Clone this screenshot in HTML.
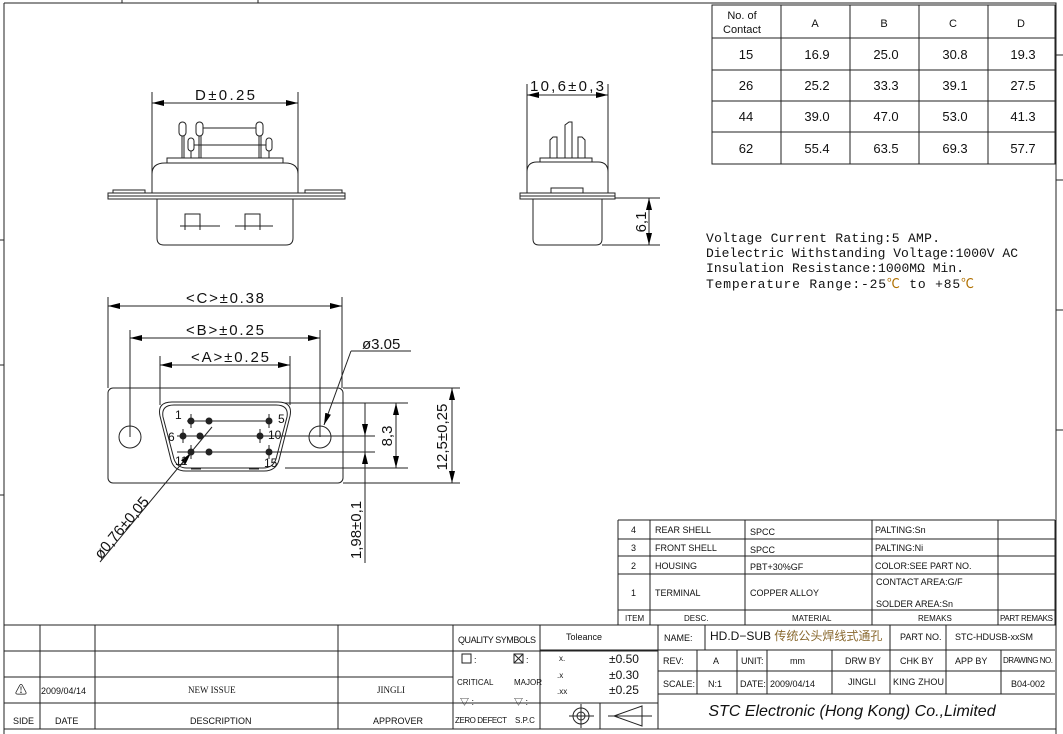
<!DOCTYPE html>
<html><head><meta charset="utf-8"><style>
html,body{margin:0;padding:0;background:#fff;}
svg{display:block;}
text{font-family:"Liberation Sans","Noto Sans CJK SC",sans-serif;fill:#111;}
.d{font-size:15px;}
.s{font-size:9px;}
.t{font-size:13px;}
.sp{font-family:"Liberation Mono","Noto Sans CJK SC",monospace;font-size:13px;}
</style></head><body>
<svg width="1063" height="734" viewBox="0 0 1063 734" xmlns="http://www.w3.org/2000/svg">
<defs>
<marker id="a" viewBox="0 0 12 6" refX="12" refY="3" markerWidth="12" markerHeight="6" orient="auto-start-reverse" markerUnits="userSpaceOnUse"><path d="M0,0 L12,3 L0,6 z" fill="#000"/></marker>
</defs>
<g fill="none" stroke="#222" stroke-width="1">
<path d="M4,3 H1056 V734 M4,3 V734"/>
<path d="M122,0 V3 M258,0 V3 M0,240 H4 M0,365 H4 M0,495 H4 M1056,55 H1063 M1056,180 H1063 M1056,310 H1063 M1056,430 H1063"/>
<rect x="712" y="5" width="343" height="159"/>
<path d="M712,38 H1055 M712,70 H1055 M712,101 H1055 M712,132 H1055 M781,5 V164 M850,5 V164 M919,5 V164 M988,5 V164"/>

<path d="M152,92 V193 M298,92 V193"/>
<line x1="152" y1="103" x2="298" y2="103" marker-start="url(#a)" marker-end="url(#a)"/>
<path d="M152,193 V174 Q152,163 165,163 H285 Q298,163 298,174 V193"/>
<rect x="167" y="158" width="116" height="5"/>
<rect x="108" y="193" width="237" height="6"/><line x1="108" y1="196" x2="345" y2="196"/>
<rect x="113" y="190" width="32" height="3"/><rect x="305" y="190" width="37" height="3"/>
<path d="M157,199 V238 Q157,245 164,245 H286 Q293,245 293,238 V199"/>
<path d="M185,230 V214 H200 V230 M180,226 H220 M245,230 V214 H260 V230 M235,226 H273"/>
<rect x="179" y="122" width="7" height="14" rx="3.5"/><rect x="196" y="122" width="7" height="14" rx="3.5"/><rect x="256" y="122" width="7" height="14" rx="3.5"/>
<rect x="188" y="138" width="6" height="13" rx="3"/><rect x="266" y="138" width="6" height="13" rx="3"/>
<path d="M182,136 V158 M184,136 V158 M199,136 V158 M201,136 V158 M259,136 V158 M261,136 V158 M191,151 V158 M269,151 V158 M203,128 H256 M194,145 H266"/>

<path d="M527,84 V193 M608,84 V193"/>
<line x1="527" y1="95" x2="608" y2="95" marker-start="url(#a)" marker-end="url(#a)"/>
<path d="M527,193 V172 Q527,162 537,162 H598 Q608,162 608,172 V193"/>
<rect x="551" y="188" width="32" height="5"/>
<rect x="520" y="193" width="95" height="6"/><line x1="520" y1="196" x2="615" y2="196"/>
<path d="M533,199 V239 Q533,245 539,245 H596 Q602,245 602,239 V199"/>
<path d="M540,162 V158 H592 V162 M550,158 V140 L553,137 H557 V158 M565,158 V125 L569,122 H572 V158 M578,158 V137 H582 L585,140 V158"/>
<path d="M615,198 H660 M602,245 H660"/>
<line x1="649" y1="198" x2="649" y2="245" marker-start="url(#a)" marker-end="url(#a)"/>

<path d="M108,297 V388 M342,297 V388 M130,330 V437 M320,330 V437 M160,356 V405 M290,356 V405"/>
<line x1="108" y1="306" x2="342" y2="306" marker-start="url(#a)" marker-end="url(#a)"/>
<line x1="130" y1="338" x2="320" y2="338" marker-start="url(#a)" marker-end="url(#a)"/>
<line x1="160" y1="365" x2="290" y2="365" marker-start="url(#a)" marker-end="url(#a)"/>
<rect x="108" y="388" width="235" height="95" rx="5"/>
<path d="M343,388 H460 M343,483 H460"/>
<circle cx="130" cy="437" r="11"/><circle cx="320" cy="437" r="11"/>
<path d="M172,402 H278 Q293,402 290,416 L279,460 Q276,471 264,471 H186 Q174,471 171,460 L160,416 Q157,402 172,402 Z"/>
<path d="M174,405 H276 Q289,405 287,417 L276,459 Q273,468 263,468 H187 Q177,468 174,459 L163,417 Q161,405 174,405 Z"/>
<path d="M191,402 h10 M249,402 h10 M191,469 h10 M249,469 h10"/>
<path d="M187,421 H272 M177,436 H375 M177,452 H375 M285,403 H408 M285,468 H408"/>
<path d="M191,414 V428 M269,414 V428 M183,429 V443 M260,429 V443 M191,445 V459 M269,445 V459"/>
<line x1="396" y1="403" x2="396" y2="468" marker-start="url(#a)" marker-end="url(#a)"/>
<line x1="452" y1="388" x2="452" y2="483" marker-start="url(#a)" marker-end="url(#a)"/>
<path d="M365,403 V563"/>
<line x1="365" y1="430" x2="365" y2="436" marker-end="url(#a)"/>
<line x1="365" y1="475" x2="365" y2="452" marker-end="url(#a)"/>
<path d="M411,351 H351"/>
<line x1="351" y1="351" x2="324" y2="425" marker-end="url(#a)"/>
<line x1="100" y1="562" x2="212" y2="427"/>
<line x1="180" y1="466" x2="191" y2="453" marker-end="url(#a)"/>
</g>
<g fill="#222">
<circle cx="191" cy="421" r="3.5"/><circle cx="209" cy="421" r="3.5"/><circle cx="269" cy="421" r="3.5"/>
<circle cx="183" cy="436" r="3.5"/><circle cx="200" cy="436" r="3.5"/><circle cx="260" cy="436" r="3.5"/>
<circle cx="191" cy="452" r="3.5"/><circle cx="209" cy="452" r="3.5"/><circle cx="269" cy="452" r="3.5"/>
</g>
<text class="d" x="225" y="100" text-anchor="middle" textLength="60">D±0.25</text>
<text class="d" x="567" y="91" text-anchor="middle" textLength="74">10,6±0,3</text>
<text class="d" transform="translate(646,222) rotate(-90)" text-anchor="middle">6,1</text>
<text class="d" x="225" y="303" text-anchor="middle" textLength="78">&lt;C&gt;±0.38</text>
<text class="d" x="225" y="335" text-anchor="middle" textLength="78">&lt;B&gt;±0.25</text>
<text class="d" x="230" y="362" text-anchor="middle" textLength="78">&lt;A&gt;±0.25</text>
<text class="d" x="362" y="349">ø3.05</text>
<text class="d" transform="translate(392,436) rotate(-90)" text-anchor="middle">8,3</text>
<text class="d" transform="translate(447,437) rotate(-90)" text-anchor="middle">12,5±0,25</text>
<text class="d" transform="translate(361,530) rotate(-90)" text-anchor="middle">1,98±0,1</text>
<text class="d" transform="translate(101,560) rotate(-50)">ø0,76±0,05</text>
<g style="font-family:'Liberation Serif',serif;font-size:12px">
<text x="175" y="419">1</text><text x="278" y="423">5</text><text x="168" y="441">6</text><text x="268" y="439">10</text><text x="175" y="465">11</text><text x="264" y="467">15</text>
</g>

<g class="t" text-anchor="middle">
<text x="742" y="19" font-size="11">No. of</text><text x="742" y="33" font-size="11">Contact</text>
<text x="815" y="27" font-size="11">A</text><text x="884" y="27" font-size="11">B</text><text x="953" y="27" font-size="11">C</text><text x="1021" y="27" font-size="11">D</text>
<text x="746" y="59">15</text><text x="817" y="59">16.9</text><text x="886" y="59">25.0</text><text x="955" y="59">30.8</text><text x="1023" y="59">19.3</text>
<text x="746" y="90">26</text><text x="817" y="90">25.2</text><text x="886" y="90">33.3</text><text x="955" y="90">39.1</text><text x="1023" y="90">27.5</text>
<text x="746" y="121">44</text><text x="817" y="121">39.0</text><text x="886" y="121">47.0</text><text x="955" y="121">53.0</text><text x="1023" y="121">41.3</text>
<text x="746" y="153">62</text><text x="817" y="153">55.4</text><text x="886" y="153">63.5</text><text x="955" y="153">69.3</text><text x="1023" y="153">57.7</text>
</g>

<text class="sp" x="706" y="242" textLength="234">Voltage Current Rating:5 AMP.</text>
<text class="sp" x="706" y="257" textLength="312">Dielectric Withstanding Voltage:1000V AC</text>
<text class="sp" x="706" y="272" textLength="258">Insulation Resistance:1000MΩ Min.</text>
<text class="sp" x="706" y="288" textLength="268">Temperature Range:-25<tspan fill="#b07000">℃</tspan> to +85<tspan fill="#b07000">℃</tspan></text>

<g fill="none" stroke="#222">
<path d="M618,520 H1055 M618,539 H1055 M618,556 H1055 M618,574 H1055 M618,610 H1055 M618,520 V625 M650,520 V625 M745,520 V625 M872,520 V625 M998,520 V625 M1055,520 V625"/>
<path d="M4,625 H1056 M4,651 H658 M4,677 H453 M4,703 H658 M4,729 H1056"/>
<path d="M40,625 V729 M95,625 V729 M338,625 V729 M453,625 V729 M540,625 V729 M658,625 V729"/>
<path d="M540,650 H658"/>
<path d="M658,650 H1055 M658,671 H1055 M658,694 H1055 M705,625 V650 M890,625 V694 M946,625 V650 M697,650 V694 M737,650 V694 M767,650 V694 M832,650 V694 M946,650 V694 M1001,650 V694"/>
<path d="M600,703 V729 M569,716 H594 M608,716 H652 M614,716 L642,706 V726 Z"/>
<circle cx="581" cy="716" r="8"/><circle cx="581" cy="716" r="4"/>
<path d="M581,704 V728"/>
<rect x="462" y="654" width="9" height="9"/><rect x="514" y="654" width="9" height="9"/><path d="M514,654 l9,9 M523,654 l-9,9"/>
</g>
<g class="s">
<text x="631" y="533">4</text><text x="631" y="551">3</text><text x="631" y="569">2</text><text x="631" y="596">1</text><text x="625" y="621" font-size="8">ITEM</text>
<text x="655" y="533">REAR SHELL</text><text x="655" y="551">FRONT SHELL</text><text x="655" y="569">HOUSING</text><text x="655" y="596">TERMINAL</text><text x="684" y="621" font-size="8">DESC.</text>
<text x="750" y="535">SPCC</text><text x="750" y="553">SPCC</text><text x="750" y="570">PBT+30%GF</text><text x="750" y="596">COPPER ALLOY</text><text x="792" y="621" font-size="8">MATERIAL</text>
<text x="875" y="533">PALTING:Sn</text><text x="875" y="551">PALTING:Ni</text><text x="875" y="569">COLOR:SEE PART NO.</text><text x="876" y="585">CONTACT AREA:G/F</text><text x="876" y="607">SOLDER AREA:Sn</text><text x="918" y="621" font-size="8">REMAKS</text>
<text x="1000" y="621" font-size="8" textLength="53">PART REMAKS</text>
<text x="664" y="641">NAME:</text><text x="710" y="640" font-size="12">HD.D−SUB <tspan fill="#8a6a30">传统公头焊线式通孔</tspan></text>
<text x="900" y="640">PART NO.</text><text x="955" y="640" fill="#777">STC-HDUSB-xxSM</text>
<text x="663" y="664">REV:</text><text x="713" y="664" fill="#c07020">A</text><text x="741" y="664">UNIT:</text><text x="790" y="664">mm</text><text x="845" y="664">DRW BY</text><text x="900" y="664">CHK BY</text><text x="955" y="664">APP BY</text><text x="1003" y="663" font-size="8" textLength="50">DRAWING NO.</text>
<text x="663" y="687">SCALE:</text><text x="708" y="687">N:1</text><text x="740" y="687">DATE:</text><text x="770" y="687">2009/04/14</text><text x="848" y="685">JINGLI</text><text x="893" y="685" textLength="51">KING ZHOU</text><text x="1011" y="687">B04-002</text>
<text x="566" y="640">Toleance</text>
<text x="559" y="661" font-size="8">x.</text><text x="609" y="663" font-size="12">±0.50</text>
<text x="557" y="678" font-size="8">.x</text><text x="609" y="679" font-size="12">±0.30</text>
<text x="557" y="694" font-size="8">.xx</text><text x="609" y="694" font-size="12">±0.25</text>
<text x="458" y="643" textLength="78">QUALITY SYMBOLS</text>
<text x="474" y="663">:</text><text x="526" y="663">:</text>
<text x="457" y="685" font-size="8">CRITICAL</text><text x="514" y="685" font-size="8">MAJOR</text>
<text x="460" y="705">▽ :</text><text x="514" y="705">▽ :</text>
<text x="455" y="723" font-size="8" textLength="52">ZERO DEFECT</text><text x="515" y="723" font-size="8">S.P.C</text>
<text x="15" y="694" font-size="12">⚠</text><text x="41" y="694">2009/04/14</text>
<text x="188" y="693" fill="#3050a0" style="font-family:'Liberation Serif',serif">NEW ISSUE</text>
<text x="377" y="693" fill="#3050a0" style="font-family:'Liberation Serif',serif">JINGLI</text>
<text x="13" y="724">SIDE</text><text x="55" y="724">DATE</text><text x="190" y="724">DESCRIPTION</text><text x="373" y="724">APPROVER</text>
</g>
<text x="852" y="716" text-anchor="middle" font-size="16" font-style="italic" fill="#777">STC Electronic (Hong Kong) Co.,Limited</text>
</svg>
</body></html>
